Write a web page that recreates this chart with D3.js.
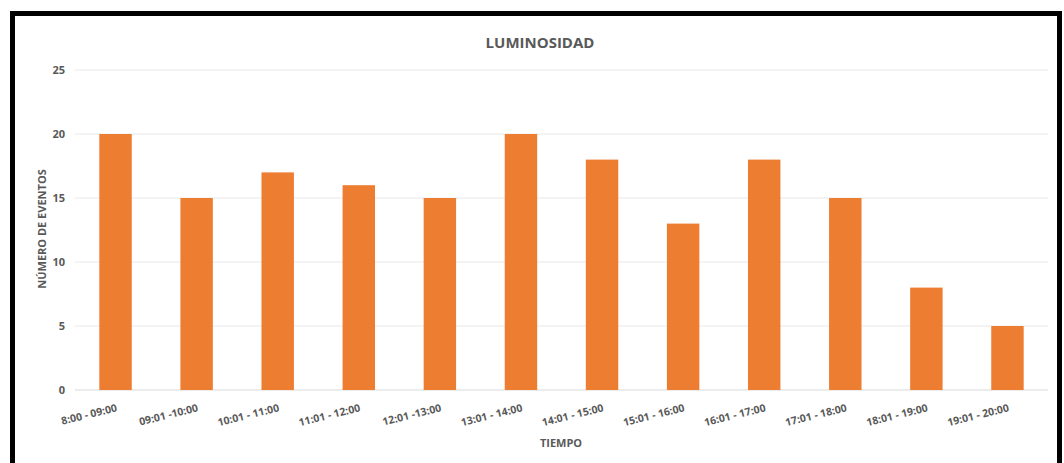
<!DOCTYPE html>
<html><head><meta charset="utf-8">
<script src="https://cdn.jsdelivr.net/npm/d3@7"></script>
<style>
html,body{margin:0;padding:0;background:#fff;}
svg{display:block;}
text{font-family:"Open Sans","Liberation Sans",sans-serif;}
</style></head>
<body>
<script>
const categories = ["8:00 - 09:00","09:01 -10:00","10:01 - 11:00","11:01 - 12:00","12:01 -13:00","13:01 - 14:00","14:01 - 15:00","15:01 - 16:00","16:01 - 17:00","17:01 - 18:00","18:01 - 19:00","19:01 - 20:00"];
const values = [20,15,17,16,15,20,18,13,18,15,8,5];
const yTicks = [0,5,10,15,20,25];
const title = "LUMINOSIDAD";
const xTitle = "TIEMPO";
const yTitle = "NÚMERO DE EVENTOS";

const W = 1064, H = 463;
const svg = d3.select("body").append("svg").attr("width", W).attr("height", H);
svg.append("rect").attr("x",0).attr("y",0).attr("width",W).attr("height",H).attr("fill","#fff");
// frame
svg.append("rect").attr("x",12.5).attr("y",13.5).attr("width",1047).attr("height",470)
  .attr("fill","none").attr("stroke","#000").attr("stroke-width",5);

const pLeft = 75, pRight = 1048, pTop = 70, pBottom = 390;
const x = d3.scaleBand().domain(categories).range([pLeft,pRight]).paddingInner(0.6).paddingOuter(0.3);
const y = d3.scaleLinear().domain([0,25]).range([pBottom,pTop]);

// gridlines
svg.append("g").selectAll("line").data(yTicks).join("line")
  .attr("x1",pLeft).attr("x2",pRight).attr("y1",d=>y(d)).attr("y2",d=>y(d))
  .attr("stroke",d=>d===0?"#d9d9d9":"#e8e8e8").attr("stroke-width",1);

// y axis labels
const yAxis = d3.axisLeft(y).tickValues(yTicks).tickSize(0).tickPadding(0);
const gy = svg.append("g").attr("transform",`translate(${pLeft-10},0)`).call(yAxis);
gy.select(".domain").remove();
gy.selectAll("text").attr("fill","#595959").attr("font-size","11px").attr("font-weight","bold").attr("dy","0.35em");

// bars
svg.append("g").selectAll("rect").data(values).join("rect")
  .attr("x",(d,i)=>x(categories[i])).attr("width",x.bandwidth())
  .attr("y",d=>y(d)).attr("height",d=>y(0)-y(d)).attr("fill","#ED7D31");

// x labels
const xAxis = d3.axisBottom(x).tickSize(0).tickPadding(0);
const gx = svg.append("g").attr("transform",`translate(0,${pBottom})`).call(xAxis);
gx.select(".domain").remove();
gx.selectAll("text").attr("fill","#595959").attr("font-size","10.5px").attr("font-weight","bold")
  .attr("text-anchor","end").attr("dy",0)
  .attr("transform","translate(2,21) rotate(-14)");

// titles
svg.append("text").attr("x",540).attr("y",48).attr("text-anchor","middle")
  .attr("fill","#595959").attr("font-size","15px").attr("font-weight","bold").text(title);
svg.append("text").attr("x",561).attr("y",447).attr("text-anchor","middle")
  .attr("fill","#595959").attr("font-size","11px").attr("font-weight","bold").text(xTitle);
svg.append("text").attr("transform","translate(46,229) rotate(-90)").attr("text-anchor","middle")
  .attr("fill","#595959").attr("font-size","11px").attr("font-weight","bold").text(yTitle);
</script>
</body></html>
